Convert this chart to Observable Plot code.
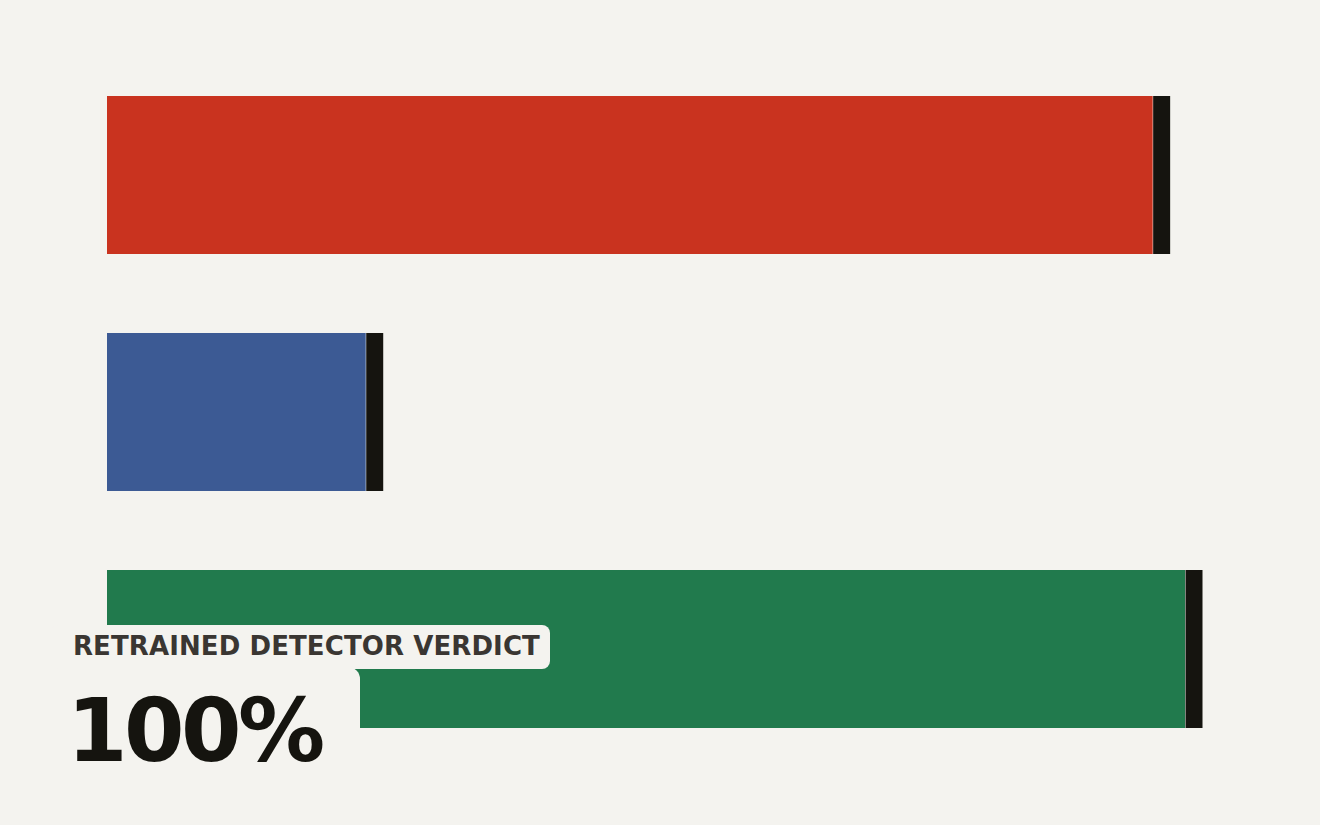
<!DOCTYPE html>
<html>
<head>
<meta charset="utf-8">
<script src="https://cdn.jsdelivr.net/npm/d3@7"></script>
<script src="https://cdn.jsdelivr.net/npm/@observablehq/plot@0.6"></script>
<style>
  html, body { margin: 0; padding: 0; background: #f4f3ef; }
  #wrap { position: relative; width: 1320px; height: 825px; overflow: hidden; }
  #chart svg { display: block; }
  .box1 { position: absolute; left: 50px; top: 625px; width: 500px; height: 44px; background: #f4f3ef; border-radius: 8px; }
  .box2 { position: absolute; left: 50px; top: 667px; width: 310px; height: 130px; background: #f4f3ef; border-radius: 0 12px 0 0; }
  .kicker { position: absolute; left: 73px; top: 629px; font-family: "DejaVu Sans", sans-serif; font-weight: bold; font-size: 26px; letter-spacing: 0.1px; color: #3a3632; white-space: nowrap; line-height: 34px; }
  .big { position: absolute; left: 67px; top: 681px; font-family: "DejaVu Sans", sans-serif; font-weight: bold; font-size: 87px; letter-spacing: -3.5px; color: #15140f; white-space: nowrap; line-height: 100px; }
</style>
</head>
<body>
<div id="wrap">
  <div id="chart"></div>
  <div class="box2"></div>
  <div class="box1"></div>
  <div class="kicker">RETRAINED DETECTOR VERDICT</div>
  <div class="big">100%</div>
</div>
<script>
const categories = ["Original detector", "Baseline", "Retrained detector"];
const values = [97, 24, 100];
const colors = ["#c9331f", "#3c5a94", "#217a4d"];

const data = categories.map((c, i) => ({category: c, value: values[i], color: colors[i]}));

const chart = Plot.plot({
  width: 1320,
  height: 825,
  marginLeft: 107,
  marginRight: 135,
  marginTop: 17,
  marginBottom: 18,
  style: {background: "#f4f3ef"},
  x: {domain: [0, 100], axis: null},
  y: {domain: categories, padding: 1/3, axis: null},
  marks: [
    Plot.barX(data, {y: "category", x: "value", fill: "color"}),
    Plot.tickX(data, {y: "category", x: "value", stroke: "#15140f", strokeWidth: 17, dx: 8.5})
  ]
});
document.getElementById("chart").appendChild(chart);
</script>
</body>
</html>
